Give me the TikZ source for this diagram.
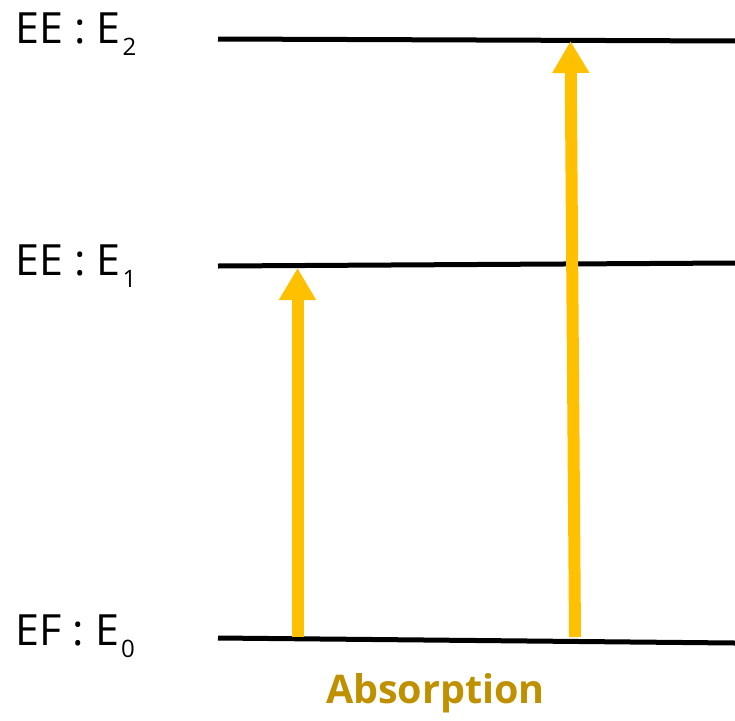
\documentclass[tikz,border=0pt]{standalone}
\usepackage{fontspec}
\setmainfont{Open Sans}
\usetikzlibrary{arrows.meta}
\definecolor{arrowgold}{HTML}{FFC000}
\definecolor{labelgold}{HTML}{BF9000}
\tikzset{
  level/.style={line width=5pt, black},
  absarrow/.style={line width=12pt, arrowgold, -{Triangle[length=32pt,width=35pt]}},
  lvllabel/.style={anchor=base west, inner sep=0pt, font=\fontsize{43}{43}\selectfont}
}
\newcommand{\lvlsub}[1]{\kern2pt\raisebox{-12pt}{\fontsize{24}{24}\selectfont #1}}
\begin{document}
\begin{tikzpicture}[x=1pt,y=-1pt]
\useasboundingbox (0,0) rectangle (735,720);
% level lines
\coordinate (t1) at (218,39);  \coordinate (t2) at (735,41);
\coordinate (m1) at (218,266); \coordinate (m2) at (735,263);
\coordinate (b1) at (218,638); \coordinate (b2) at (735,643);
\draw[level] (t1) -- (t2);
\draw[level] (m1) -- (m2);
\draw[level] (b1) -- (b2);
% labels
\node[lvllabel] (l2) at (15,43) {EE : E\lvlsub{2}};
\node[lvllabel] (l1) at (15,275) {EE : E\lvlsub{1}};
\node[lvllabel] (l0) at (15,645) {EF : E\lvlsub{0}};
% arrows
\coordinate (a1s) at (297.5,637);
\coordinate (a1e) at (297.5,268);
\coordinate (a2s) at (575,637);
\coordinate (a2e) at (570.5,41);
\draw[absarrow] (a1s) -- (a1e);
\draw[absarrow] (a2s) -- (a2e);
% caption
\node[anchor=base, inner sep=0pt, text=labelgold, font=\bfseries\fontsize{39.5}{39.5}\selectfont] (cap) at (435.5,703) {Absorption};
\end{tikzpicture}
\end{document}
